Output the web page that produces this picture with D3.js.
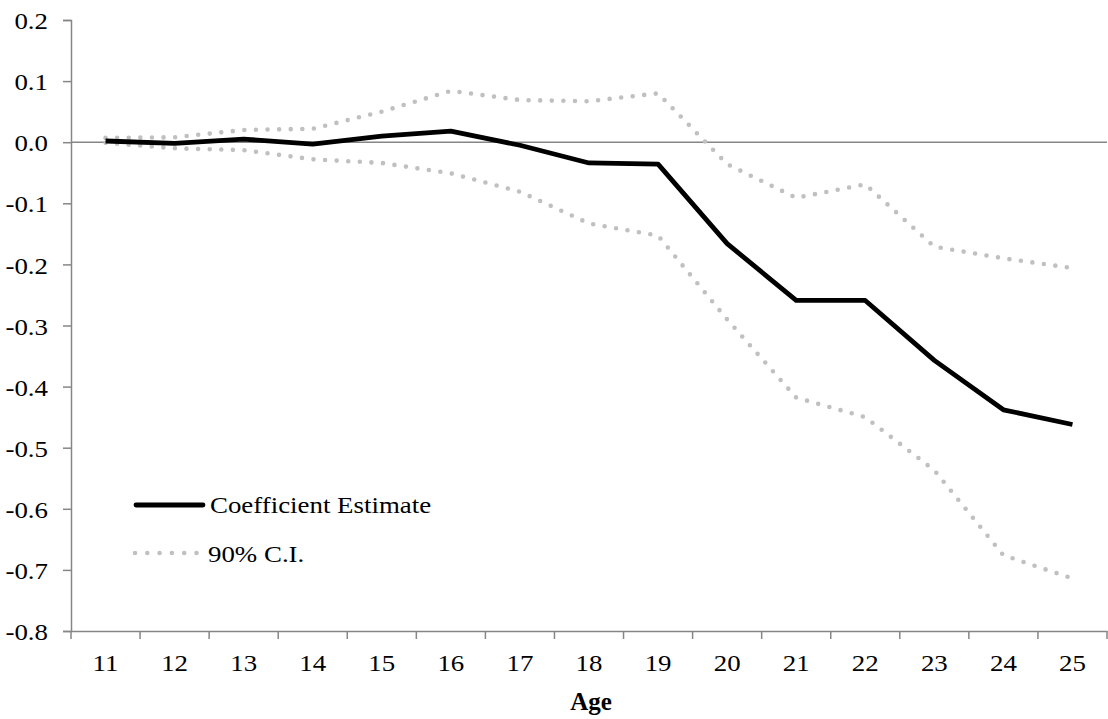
<!DOCTYPE html>
<html>
<head>
<meta charset="utf-8">
<script src="https://cdn.jsdelivr.net/npm/d3@7"></script>
<style>
  html, body { margin: 0; padding: 0; background: #fff; }
  svg { display: block; }
  text { font-family: "Liberation Serif", "Times New Roman", "DejaVu Serif", serif; fill: #000; }
</style>
</head>
<body>
<svg id="chart" width="1108" height="719"></svg>
<script>
const ages = ["11","12","13","14","15","16","17","18","19","20","21","22","23","24","25"];
const coefEstimate = [0.002, -0.002, 0.005, -0.003, 0.010, 0.018, -0.005, -0.034, -0.036, -0.166, -0.259, -0.259, -0.357, -0.438, -0.462];
const ciUpper = [0.007, 0.008, 0.020, 0.022, 0.050, 0.084, 0.069, 0.067, 0.080, -0.036, -0.091, -0.069, -0.171, -0.190, -0.206];
const ciLower = [-0.001, -0.010, -0.013, -0.028, -0.034, -0.051, -0.081, -0.133, -0.153, -0.290, -0.418, -0.450, -0.537, -0.676, -0.714];
const yTicks = [0.2, 0.1, 0.0, -0.1, -0.2, -0.3, -0.4, -0.5, -0.6, -0.7, -0.8];
const legendLabels = ["Coefficient Estimate", "90% C.I."];
const xTitle = "Age";

const FS = 24;      // font size
const SX = 1.12;    // horizontal glyph stretch seen in the reference
const W = 1108, H = 719;
const margin = {top: 20, right: 1, bottom: 88, left: 71};
const svg = d3.select("#chart");
const axisColor = "#868686";
const ciColor = "#c0c0c0";

const x = d3.scaleBand().domain(ages).range([margin.left, W - margin.right]).padding(0);
const y = d3.scaleLinear().domain([-0.8, 0.2]).range([H - margin.bottom, margin.top]);
const cx = d => x(d) + x.bandwidth() / 2;

// Y axis
const yAxis = d3.axisLeft(y).tickValues(yTicks).tickSize(8).tickPadding(15)
  .tickFormat(d => d.toFixed(1));
const gy = svg.append("g").attr("transform", `translate(${margin.left},0)`).call(yAxis)
  .attr("font-size", FS);
gy.select(".domain").attr("stroke", axisColor).attr("stroke-width", 1.5);
gy.selectAll(".tick line").attr("stroke", axisColor).attr("stroke-width", 1.5);
gy.selectAll(".tick text").attr("class", "stretch").attr("fill", "#000").attr("font-size", FS).attr("dy", "0.36em");

// X axis
const xAxis = d3.axisBottom(x).tickSize(0).tickPadding(22.5);
const gx = svg.append("g").attr("transform", `translate(0,${y(-0.8)})`).call(xAxis)
  .attr("font-size", FS);
gx.select(".domain").attr("stroke", axisColor).attr("stroke-width", 1.5);
gx.selectAll(".tick text").attr("class", "stretch").attr("fill", "#000").attr("font-size", FS).attr("dy", "0.71em");
// boundary ticks between categories
const boundaries = ages.map(a => x(a)).concat([x.range()[1]]);
gx.selectAll(".btick").data(boundaries).enter().append("line")
  .attr("class", "btick")
  .attr("x1", d => d).attr("x2", d => d)
  .attr("y1", 0).attr("y2", 8)
  .attr("stroke", axisColor).attr("stroke-width", 1.5);

// zero line
svg.append("line")
  .attr("x1", x.range()[0]).attr("x2", x.range()[1])
  .attr("y1", y(0)).attr("y2", y(0))
  .attr("stroke", axisColor).attr("stroke-width", 1.5);

const line = d3.line().x((d, i) => cx(ages[i])).y(d => y(d));

// CI lines
[ciUpper, ciLower].forEach(arr => {
  svg.append("path").datum(arr)
    .attr("d", line)
    .attr("fill", "none")
    .attr("stroke", ciColor)
    .attr("stroke-width", 4.6)
    .attr("stroke-linecap", "round")
    .attr("stroke-dasharray", "0 11.6");
});

// Coefficient line
svg.append("path").datum(coefEstimate)
  .attr("d", line)
  .attr("fill", "none")
  .attr("stroke", "#000")
  .attr("stroke-width", 4.8)
  .attr("stroke-linejoin", "round");

// Legend
const lg = svg.append("g");
lg.append("line").attr("x1", 136).attr("x2", 203).attr("y1", 505).attr("y2", 505)
  .attr("stroke", "#000").attr("stroke-width", 4.8).attr("stroke-linecap", "round");
lg.append("text").attr("class", "stretch").attr("x", 210).attr("y", 513).attr("font-size", FS).text(legendLabels[0]);
lg.append("line").attr("x1", 135).attr("x2", 197).attr("y1", 553).attr("y2", 553)
  .attr("stroke", ciColor).attr("stroke-width", 4.6).attr("stroke-linecap", "round")
  .attr("stroke-dasharray", "0 12.3");
lg.append("text").attr("class", "stretch").attr("x", 208).attr("y", 561.5).attr("font-size", FS).text(legendLabels[1]);

// X title
svg.append("text")
  .attr("x", (x.range()[0] + x.range()[1]) / 2 + 2)
  .attr("y", 710)
  .attr("text-anchor", "middle")
  .attr("font-size", 25)
  .attr("font-weight", "bold")
  .text(xTitle);

// apply the horizontal stretch around each label's anchor point
svg.selectAll("text.stretch").each(function() {
  const t = d3.select(this);
  const tx = +t.attr("x") || 0, ty = +t.attr("y") || 0;
  t.attr("x", null).attr("y", null)
   .attr("transform", `translate(${tx},${ty}) scale(${SX},1)`);
});
</script>
</body>
</html>
